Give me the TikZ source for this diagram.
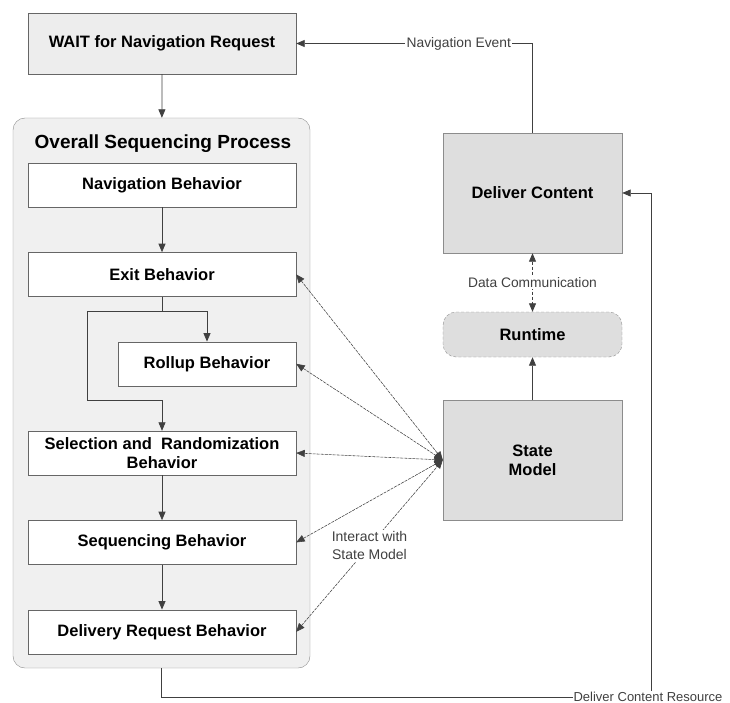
\documentclass[tikz,border=0pt]{standalone}
\usepackage{fontspec}
\setmainfont{Liberation Sans}
\usetikzlibrary{positioning, arrows.meta}

\begin{document}
\begin{tikzpicture}[x=1pt, y=1pt, >={Triangle[length=8.5pt, width=7pt]},
        node distance=45pt,
        behav/.style={draw=black!60, fill=white, minimum width=268pt, minimum height=44pt,
          inner sep=0pt, align=center, font=\bfseries\fontsize{16.5}{19}\selectfont},
        store/.style={draw=black!45, fill=black!13, minimum width=179pt, inner sep=0pt,
          align=center, font=\bfseries\fontsize{16.5}{19}\selectfont},
        lbl/.style={fill=white, inner sep=1.5pt, text=black!75, align=center,
          font=\fontsize{13.8}{18}\selectfont},
        conn/.style={draw=black!75, line width=0.8pt},
        talk/.style={<->, draw=black!75, line width=0.55pt, dash pattern=on 3pt off 1pt}
        ]
  \useasboundingbox (0,0) rectangle (730,-703);
  \node[draw=black!45, fill=black!6, rounded corners=12pt, minimum width=297pt,
        minimum height=550pt] (osp) at (161.5,-393) {};
  \node[anchor=base, font=\bfseries\fontsize{19}{22}\selectfont] (title) at (163,-149)
        {Overall Sequencing Process};

  \node[behav, fill=black!7, minimum height=61pt] (wait) at (162,-43.5) {WAIT for Navigation Request};
  \node[behav] (nav) at (162,-185) {Navigation Behavior};
  \node[behav, below=of nav] (exit) {Exit Behavior};
  \node[behav, minimum width=178pt, below left=45pt and 0pt of exit.south east] (rollup) {Rollup Behavior};
  \node[behav] (sel) at (162,-453) {Selection and \ Randomization\\Behavior};
  \node[behav, below=of sel] (seq) {Sequencing Behavior};
  \node[behav, below=of seq] (deliv) {Delivery Request Behavior};

  \node[store, minimum height=120pt] (deliver) at (532.5,-193) {Deliver Content};
  \node[store, minimum height=45pt, rounded corners=13pt, densely dashed] (runtime) at (532.5,-334.5) {Runtime};
  \node[store, minimum height=120pt] (state) at (532.5,-460) {State\\Model};

  \coordinate (bend) at (87,-400);
  \coordinate (dcr) at (651,-697);

  \draw[conn, ->] (wait) -- (osp);
  \draw[conn, ->] (nav) -- (exit);
  \draw[conn, ->] (exit.south) -- ++(0,-15) coordinate (split) -| (rollup.north);
  \draw[conn, ->] (split) -| (bend) -| (sel.north);
  \draw[conn, ->] (sel) -- (seq);
  \draw[conn, ->] (seq) -- (deliv);

  \draw[conn, ->] (deliver.north) |- (wait.east) node[lbl, pos=0.656] (navev) {Navigation Event};
  \draw[conn, <->, densely dashed] (deliver) -- (runtime) node[lbl, midway] (datacom) {Data Communication};
  \draw[conn, ->] (state) -- (runtime);
  \draw[conn, ->] (osp.south) |- (dcr) |- (deliver.east);
  \node[lbl, inner xsep=1pt, xshift=-3pt, font=\fontsize{13}{16}\selectfont] (dcrlbl) at (dcr) {Deliver Content Resource};

  \foreach \b in {exit, rollup, sel, seq}
    \draw[talk] (\b.east) -- (state.west);
  \draw[talk] (deliv.east) -- (state.west) node[lbl, midway, font=\fontsize{14}{18}\selectfont] (inter) {Interact with\\State Model};
\end{tikzpicture}
\end{document}
